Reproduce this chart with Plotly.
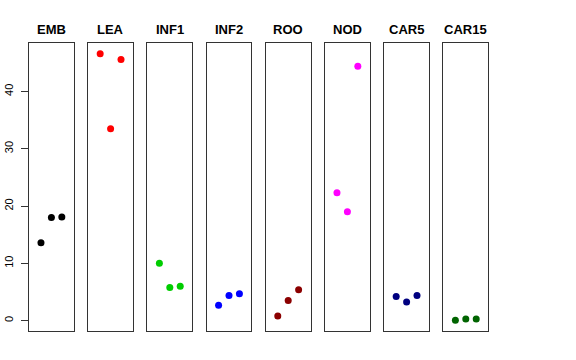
import plotly.graph_objects as go

tissues = ["EMB", "LEA", "INF1", "INF2", "ROO", "NOD", "CAR5", "CAR15"]
rep_x = [1, 2, 3]
values = {
    "EMB": [13.6, 18.0, 18.1],
    "LEA": [46.6, 33.5, 45.6],
    "INF1": [10.0, 5.8, 6.0],
    "INF2": [2.7, 4.4, 4.7],
    "ROO": [0.8, 3.5, 5.4],
    "NOD": [22.3, 19.0, 44.4],
    "CAR5": [4.2, 3.25, 4.4],
    "CAR15": [0.05, 0.3, 0.3],
}
colors = ["#000000", "#FF0000", "#00CD00", "#0000FF", "#8B0000", "#FF00FF", "#000080", "#006400"]
y_ticks = [0, 10, 20, 30, 40]

W, H = 576, 360
left0, pw, pitch = 29, 44.8, 59.2
top, bottom = 43, 331
title_y = 29

fig = go.Figure()
all_vals = [v for t in tissues for v in values[t]]
lo, hi = min(all_vals), max(all_vals)
pad = 0.04 * (hi - lo)
yr = [lo - pad, hi + pad]

for i, t in enumerate(tissues):
    n = i + 1
    xa = "x" if n == 1 else f"x{n}"
    ya = "y" if n == 1 else f"y{n}"
    fig.add_trace(go.Scatter(
        x=rep_x, y=values[t], mode="markers", xaxis=xa, yaxis=ya,
        marker=dict(color=colors[i], size=7, line=dict(width=0)),
        showlegend=False, hoverinfo="skip"))
    x0 = left0 + i * pitch
    x1 = x0 + pw
    xkey = "xaxis" if n == 1 else f"xaxis{n}"
    ykey = "yaxis" if n == 1 else f"yaxis{n}"
    fig.layout[xkey] = dict(
        domain=[x0 / W, x1 / W], range=[-0.15, 4.15], anchor=ya,
        showgrid=False, zeroline=False, showticklabels=False, ticks="",
        automargin=False,
        showline=True, mirror=True, linecolor="#333333", linewidth=1)
    yaxis_cfg = dict(
        domain=[1 - bottom / H, 1 - top / H], range=yr, anchor=xa,
        showgrid=False, zeroline=False, automargin=False,
        showline=True, mirror=True, linecolor="#333333", linewidth=1)
    if n == 1:
        yaxis_cfg.update(
            tickmode="array", tickvals=y_ticks, ticktext=[str(v) for v in y_ticks],
            ticks="outside", ticklen=7, tickcolor="#333333", tickangle=-90,
            tickfont=dict(family="Liberation Sans, Arial, sans-serif", size=11, color="#000000"),
            ticklabelstandoff=4)
    else:
        yaxis_cfg.update(showticklabels=False, ticks="")
    fig.layout[ykey] = yaxis_cfg
    fig.add_annotation(
        x=(x0 + x1) / 2 / W, y=1 - title_y / H, xref="paper", yref="paper",
        text=f"<b>{t}</b>", showarrow=False, xanchor="center", yanchor="middle",
        font=dict(family="Liberation Sans, Arial, sans-serif", size=13, color="#000000"))

fig.update_layout(
    width=W, height=H, margin=dict(l=0, r=0, t=0, b=0),
    paper_bgcolor="white", plot_bgcolor="white")

fig.write_html("out.html", config={"displayModeBar": False},
               post_script="document.body.style.margin='0';document.body.style.padding='0';")
